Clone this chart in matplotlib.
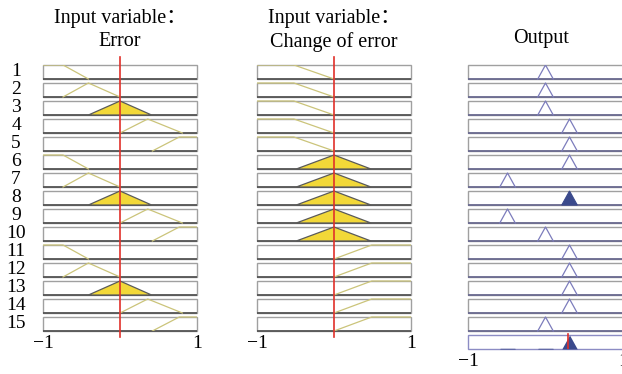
import matplotlib
matplotlib.use("Agg")
import matplotlib.pyplot as plt
from matplotlib.patches import Rectangle, Polygon
import numpy as np

# ---------------- data ----------------
# membership functions (trapezoid params a,b,c,d; triangle => b == c)
error_mfs = [[-1.0, -1.0, -0.74, -0.41],
             [-0.74, -0.41, -0.41, 0.0],
             [-0.41, 0.0, 0.0, 0.41],
             [0.0, 0.36, 0.36, 0.81],
             [0.42, 0.77, 1.0, 1.0]]
derror_mfs = [[-1.0, -1.0, -0.52, 0.0],
              [-0.49, 0.0, 0.0, 0.48],
              [0.0, 0.49, 1.0, 1.0]]
output_mfs = [[-0.59, -0.49, -0.49, -0.39],
              [-0.10, 0.0, 0.0, 0.10],
              [0.21, 0.31, 0.31, 0.41]]
# rules: (error MF index, change-of-error MF index, output MF index)
rule_error = [0, 1, 2, 3, 4, 0, 1, 2, 3, 4, 0, 1, 2, 3, 4]
rule_derror = [0, 0, 0, 0, 0, 1, 1, 1, 1, 1, 2, 2, 2, 2, 2]
rule_output = [1, 1, 1, 2, 2, 2, 0, 2, 0, 1, 2, 2, 2, 2, 1]
rule_strength = [0, 0, 0, 0, 0, 0, 0.05, 1.0, 0.0, 0.05, 0, 0, 0, 0, 0]
filled_error_rows = [2, 7, 12]
filled_derror_rows = [5, 6, 7, 8, 9]
input_error = 0.0
input_derror = 0.0
output_value = 0.295
row_labels = [str(i) for i in range(1, 16)]
tick_labels = ["\u22121", "1"]
title_line1 = "Input variable\uff1a"
title_error = "Error"
title_derror = "Change of error"
title_output = "Output"

# ---------------- style ----------------
W, H = 622, 374
fig = plt.figure(figsize=(W / 100, H / 100), dpi=100)
fam = ["Liberation Serif", "Noto Sans CJK SC", "DejaVu Sans"]
plt.rcParams["font.family"] = fam

H_ROW = 14 / 18
C_MF = "#cbc47a"
C_FILL = "#f2d838"
C_FILL_EDGE = "#5a5a5a"
C_OUT = "#7c7cbc"
C_OUT_FILL = "#3b4a8c"
C_RED = "#e0302a"
C_BOX = "#a0a0a0"
C_BOX_BOT = "#555555"
FS_TITLE = 14.5
FS_LAB = 14


def px_axes(left, right, top, bottom):
    return fig.add_axes([left / W, 1 - bottom / H, (right - left) / W, (bottom - top) / H])


def trap_pts(p):
    a, b, c, d = p
    xs = [a, b, c, d]
    ys = [0 if a < b else 1, 1, 1, 0 if c < d else 1]
    return xs, ys


def trap_mu(p, x):
    a, b, c, d = p
    if x < a or x > d:
        return 0.0
    if b <= x <= c:
        return 1.0
    if x < b:
        return (x - a) / (b - a) if b > a else 1.0
    return (d - x) / (d - c) if d > c else 1.0


def setup(ax, nrows):
    ax.set_xlim(-1, 1)
    ax.set_ylim(nrows - 1 + H_ROW, 0)
    for s in ax.spines.values():
        s.set_visible(False)
    ax.set_yticks([])
    ax.set_facecolor("none")


def box(ax, i, edge=C_BOX, bot=C_BOX_BOT):
    ax.add_patch(Rectangle((-1, i), 2, H_ROW, facecolor="white", edgecolor=edge, lw=1.0, zorder=1,
                           clip_on=False))
    ax.plot([-1, 1], [i + H_ROW, i + H_ROW], color=bot, lw=1.3, zorder=1.5, clip_on=False,
            solid_capstyle="butt")


def draw_input(ax, mfs, rule_idx, filled_rows, xin):
    setup(ax, 15)
    for i in range(15):
        box(ax, i)
        xs, ys = trap_pts(mfs[rule_idx[i]])
        yy = [i + H_ROW - H_ROW * v for v in ys]
        if i in filled_rows:
            ax.add_patch(Polygon(list(zip(xs, yy)), closed=True, facecolor=C_FILL,
                                 edgecolor=C_FILL_EDGE, lw=0.9, zorder=2))
        else:
            ax.plot(xs, yy, color=C_MF, lw=0.9, zorder=2)
    ax.plot([xin, xin], [-0.45, 15.1], color=C_RED, lw=1.2, zorder=5, clip_on=False)
    ax.set_xticks([-1, 1])
    ax.set_xticklabels(tick_labels, fontsize=FS_LAB)
    ax.tick_params(axis="x", length=0, pad=3)


ax1 = px_axes(43, 197, 65, 331)
draw_input(ax1, error_mfs, rule_error, filled_error_rows, input_error)
ax2 = px_axes(257, 411, 65, 331)
draw_input(ax2, derror_mfs, rule_derror, filled_derror_rows, input_derror)

# output column
ax3 = px_axes(468, 623, 65, 349)
setup(ax3, 16)
agg_x = np.linspace(-1, 1, 801)
agg_y = np.zeros_like(agg_x)
for i in range(15):
    box(ax3, i, bot="#6a6a90")
    p = output_mfs[rule_output[i]]
    xs, ys = trap_pts(p)
    yy = [i + H_ROW - H_ROW * v for v in ys]
    w = rule_strength[i]
    if w >= 0.5:
        ax3.add_patch(Polygon(list(zip(xs, yy)), closed=True, facecolor=C_OUT_FILL,
                              edgecolor=C_OUT_FILL, lw=0.8, zorder=2))
    else:
        ax3.plot(xs, yy, color=C_OUT, lw=0.9, zorder=2)
    mu = np.array([min(trap_mu(p, x), w) for x in agg_x])
    agg_y = np.maximum(agg_y, mu)
# aggregate row
r = 15
ax3.add_patch(Rectangle((-1, r), 2, H_ROW, facecolor="white", edgecolor="#8c8cc4", lw=1.0,
                        zorder=1, clip_on=False))
ax3.fill_between(agg_x, r + H_ROW, r + H_ROW - H_ROW * agg_y, color=C_OUT_FILL, lw=0,
                 zorder=2)
ax3.plot([output_value, output_value], [r - 0.08, r + H_ROW], color=C_RED, lw=1.2, zorder=5)
ax3.set_xticks([-1, 1])
ax3.set_xticklabels(tick_labels, fontsize=FS_LAB)
ax3.tick_params(axis="x", length=0, pad=3)

# titles
fig.text(120 / W, 1 - 19 / H, title_line1, ha="center", va="center", fontsize=FS_TITLE)
fig.text(120 / W, 1 - 42 / H, title_error, ha="center", va="center", fontsize=FS_TITLE)
fig.text(334 / W, 1 - 19 / H, title_line1, ha="center", va="center", fontsize=FS_TITLE)
fig.text(334 / W, 1 - 42 / H, title_derror, ha="center", va="center", fontsize=FS_TITLE)
fig.text(541 / W, 1 - 39 / H, title_output, ha="center", va="center", fontsize=FS_TITLE)

# row labels
for i, lab in enumerate(row_labels):
    yc = 65 + 18 * i + 7
    fig.text(16 / W, 1 - yc / H, lab, ha="center", va="center", fontsize=FS_LAB)

fig.savefig("out.png", dpi=100)
